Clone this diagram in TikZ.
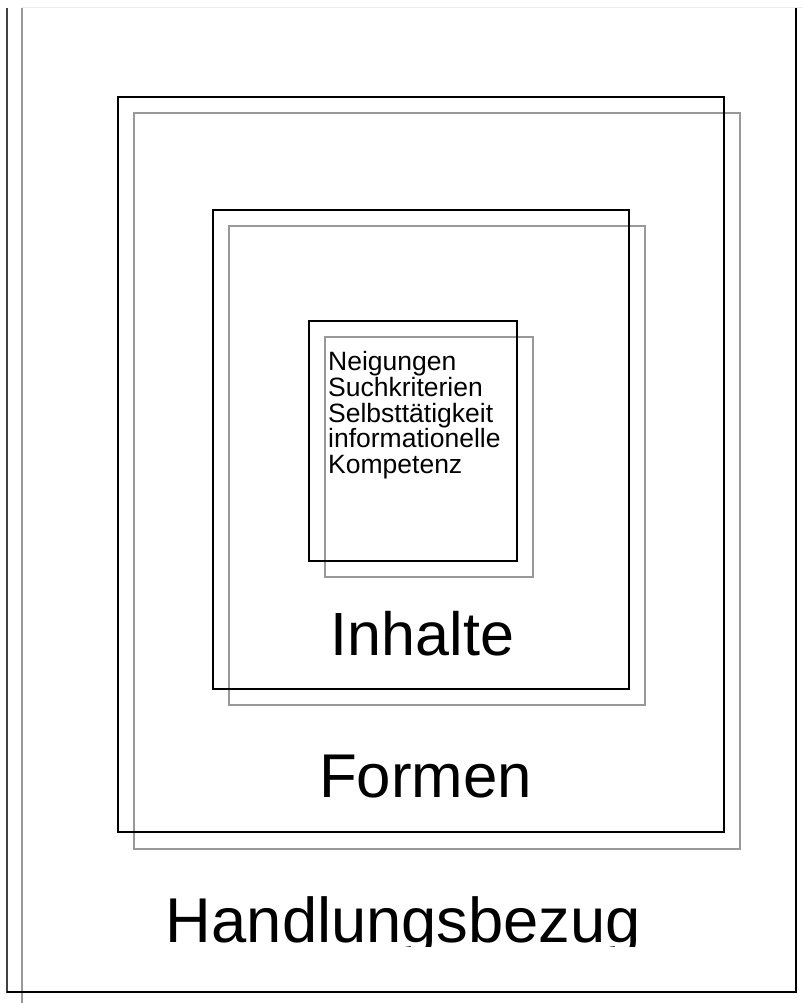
\documentclass[tikz,border=0pt]{standalone}
\usepackage{fontspec}
\setmainfont{Liberation Sans}
\begin{document}
\begin{tikzpicture}[x=1pt,y=-1pt,
  blackbox/.style={draw=black,line width=2.7pt},
  shadebox/.style={draw=black!40,line width=2.9pt},
  biglabel/.style={inner sep=0pt,anchor=base,font=\fontsize{61}{61}\selectfont},
  listlabel/.style={inner sep=0pt,anchor=base west,font=\fontsize{26.5}{26.5}\selectfont}]
\useasboundingbox (0,0) rectangle (803,1003);

% page frame
\draw[black!7,line width=1pt] (22,8) -- (803,8);
\draw[black!75,line width=1.2pt] (7,8) -- (7,993);
\draw[black!40,line width=2.8pt] (22,8) -- (22,1003);
\draw[black,line width=2.8pt] (796,8) -- (796,992) -- (6.5,992);

% outer pair
\coordinate (o1) at (118,97);  \coordinate (o2) at (724,832);
\coordinate (g1) at (134,113); \coordinate (g2) at (740,849);
\draw[shadebox] (g1) rectangle (g2);
\draw[blackbox] (o1) rectangle (o2);

% middle pair
\coordinate (m1) at (213,210); \coordinate (m2) at (629,689);
\coordinate (h1) at (229,226); \coordinate (h2) at (645,705);
\draw[shadebox] (h1) rectangle (h2);
\draw[blackbox] (m1) rectangle (m2);

% inner pair
\coordinate (i1) at (309,321); \coordinate (i2) at (517,561);
\coordinate (j1) at (325,337); \coordinate (j2) at (533,577);
\draw[shadebox] (j1) rectangle (j2);
\draw[blackbox] (i1) rectangle (i2);

% list in the inner box
\node[listlabel] (l1) at (328,370) {Neigungen};
\node[listlabel] (l2) at (328,396) {Suchkriterien};
\node[listlabel] (l3) at (328,422) {Selbsttätigkeit};
\node[listlabel] (l4) at (328,447.5) {informationelle};
\node[listlabel] (l5) at (328,473) {Kompetenz};

% level labels
\node[biglabel] (inhalte) at (422.5,655) {Inhalte};
\node[biglabel,font=\fontsize{61.8}{61.8}\selectfont] (formen) at (425.5,797) {Formen};
\begin{scope}
  \clip (0,0) rectangle (803,946);
  \node[biglabel,font=\fontsize{63.3}{63.3}\selectfont] (handlung) at (403.5,942) {Handlungsbezug};
\end{scope}
\end{tikzpicture}
\end{document}
